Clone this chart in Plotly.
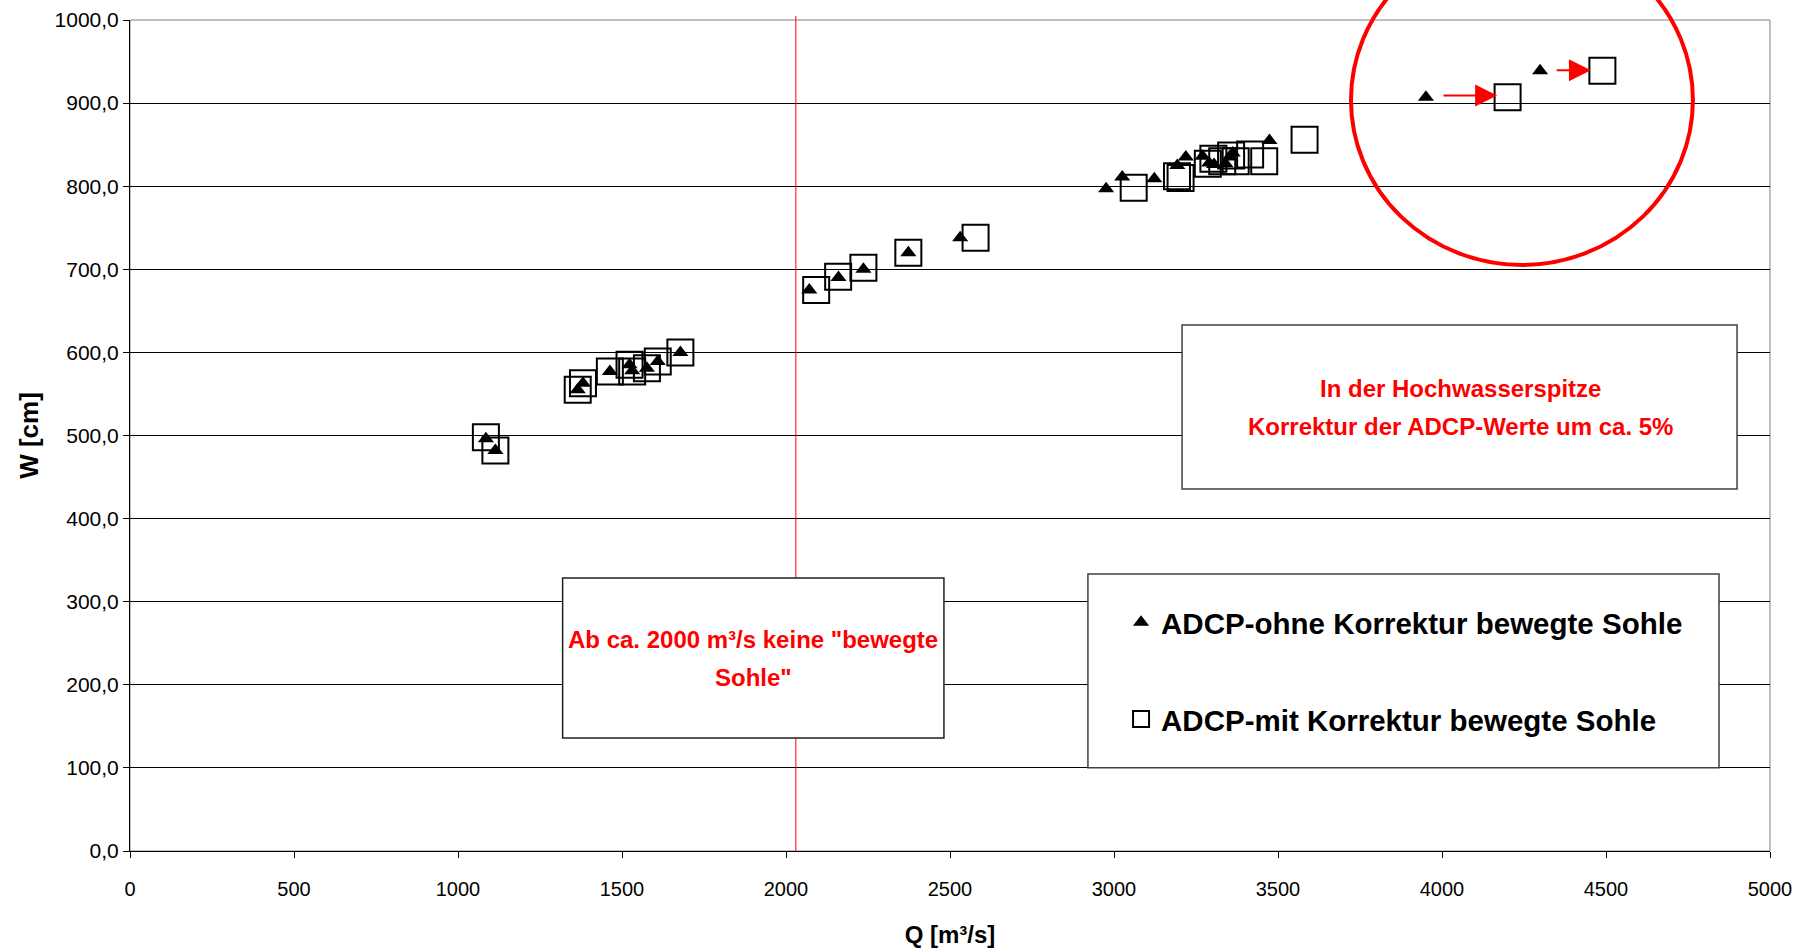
import plotly.graph_objects as go

# ---- data ----
q_ohne = [1085, 1114, 1365, 1381, 1463, 1523, 1531, 1576, 1609, 1678,
          2071, 2160, 2236, 2373, 2531,
          2976, 3025, 3123, 3193, 3219, 3270, 3290, 3305, 3340, 3352, 3362, 3474,
          3951, 4299]
w_ohne = [496, 482, 555, 563, 577, 585, 578, 581, 589, 600,
          675, 690, 700, 720, 738,
          797, 811, 809, 825, 835, 836, 828, 826, 827, 835, 840, 855,
          907, 939]

q_mit = [1085, 1114, 1365, 1381, 1463, 1523, 1531, 1576, 1609, 1678,
         2092, 2159, 2236, 2373, 2578,
         3060, 3192, 3203, 3286, 3303, 3330, 3357, 3371, 3415, 3458, 3581,
         4200, 4489]
w_mit = [498, 482, 555, 563, 577, 585, 577, 581, 589, 600,
         675, 691, 702, 720, 738,
         798, 812, 810, 827, 833, 830, 837, 830, 838, 830, 856,
         907, 939]

name_ohne = "ADCP-ohne Korrektur bewegte Sohle"
name_mit = "ADCP-mit Korrektur bewegte Sohle"

x_ticks = list(range(0, 5001, 500))
y_ticks = list(range(0, 1001, 100))

limit_q = 2030  # "Ab ca. 2000 m³/s"

# arrows: (tail_q, head_q, w)
arrow_tail_q = [4000, 4345]
arrow_head_q = [4168, 4454]
arrow_w = [909, 939.5]

FONT = "Liberation Sans, Arial, sans-serif"

fig = go.Figure()

fig.add_trace(go.Scatter(
    x=q_ohne, y=w_ohne, mode="markers", name=name_ohne, legendgroup="a",
    marker=dict(symbol="triangle-up", size=14, color="black"),
))
fig.add_trace(go.Scatter(
    x=q_mit, y=w_mit, mode="markers", name=name_mit, legendgroup="b",
    marker=dict(symbol="square-open", size=26, color="black",
                line=dict(width=2, color="black")),
))

shapes = []
# grey plot frame (top/right)
shapes.append(dict(type="rect", xref="paper", yref="paper", x0=0, x1=1, y0=0, y1=1,
                   line=dict(color="#808080", width=1), layer="below"))
# red vertical line
shapes.append(dict(type="line", xref="x", yref="paper", x0=limit_q, x1=limit_q,
                   y0=0, y1=1.005, line=dict(color="red", width=1)))
# text boxes
shapes.append(dict(type="rect", xref="paper", yref="paper",
                   x0=0.6415, x1=0.9799, y0=0.4356, y1=0.633,
                   line=dict(color="#404040", width=1.5), fillcolor="white", layer="above"))
shapes.append(dict(type="rect", xref="paper", yref="paper",
                   x0=0.2638, x1=0.4963, y0=0.136, y1=0.3285,
                   line=dict(color="#202020", width=1.5), fillcolor="white", layer="above"))
# legend box
shapes.append(dict(type="rect", xref="paper", yref="paper",
                   x0=0.5841, x1=0.9689, y0=0.1002, y1=0.3333,
                   line=dict(color="#404040", width=1.5), fillcolor="white", layer="above"))
# red circle
shapes.append(dict(type="circle", xref="paper", yref="paper",
                   x0=0.7445, x1=0.953, y0=0.7052, y1=1.1023,
                   line=dict(color="red", width=4)))

annotations = []
red_font = dict(family=FONT, size=24, color="red", weight="bold")
annotations.append(dict(xref="paper", yref="paper", x=0.811, y=0.5566,
                        text="In der Hochwasserspitze", showarrow=False,
                        font=red_font, xanchor="center", yanchor="middle"))
annotations.append(dict(xref="paper", yref="paper", x=0.811, y=0.5114,
                        text="Korrektur der ADCP-Werte um ca. 5%", showarrow=False,
                        font=red_font, xanchor="center", yanchor="middle"))
red_font2 = dict(family=FONT, size=24, color="red", weight="bold")
annotations.append(dict(xref="paper", yref="paper", x=0.3799, y=0.2551,
                        text="Ab ca. 2000 m³/s keine \"bewegte", showarrow=False,
                        font=red_font2, xanchor="center", yanchor="middle"))
annotations.append(dict(xref="paper", yref="paper", x=0.3799, y=0.2088,
                        text="Sohle\"", showarrow=False,
                        font=red_font2, xanchor="center", yanchor="middle"))
for tq, hq, w in zip(arrow_tail_q, arrow_head_q, arrow_w):
    annotations.append(dict(x=hq, y=w, ax=tq, ay=w, xref="x", yref="y",
                            axref="x", ayref="y", text="", showarrow=True,
                            arrowhead=2, arrowsize=2.2, arrowwidth=2,
                            arrowcolor="red", standoff=0, startstandoff=0))

fig.update_layout(
    width=1809, height=952,
    margin=dict(l=130, r=39, t=20, b=101, autoexpand=False),
    paper_bgcolor="white", plot_bgcolor="white",
    separators=", ",
    font=dict(family=FONT, color="black"),
    shapes=shapes, annotations=annotations,
    showlegend=True,
    legend=dict(x=0.6043, y=0.3062, xanchor="left", yanchor="top",
                bgcolor="rgba(0,0,0,0)", borderwidth=0,
                font=dict(family=FONT, size=29.5, color="black", weight="bold"),
                tracegroupgap=55.5),
    xaxis=dict(range=[0, 5000], tickvals=x_ticks, tickformat="d",
               automargin=False,
               showgrid=False, zeroline=False,
               showline=True, linecolor="black", linewidth=1,
               ticks="outside", ticklen=6, tickcolor="black",
               ticklabelstandoff=14,
               tickfont=dict(family=FONT, size=20, color="black"),
               title=dict(text="Q [m³/s]", standoff=27,
                          font=dict(family=FONT, size=24, color="black", weight="bold"))),
    yaxis=dict(range=[0, 1000], tickvals=y_ticks, tickformat=".1f",
               automargin=False,
               showgrid=True, gridcolor="black", gridwidth=1, zeroline=False,
               showline=True, linecolor="black", linewidth=1,
               ticks="outside", ticklen=6, tickcolor="black",
               ticklabelstandoff=0,
               tickfont=dict(family=FONT, size=21, color="black"),
               title=dict(text="W [cm]", standoff=7.5,
                          font=dict(family=FONT, size=26, color="black", weight="bold"))),
)

fig.write_html("out.html")
